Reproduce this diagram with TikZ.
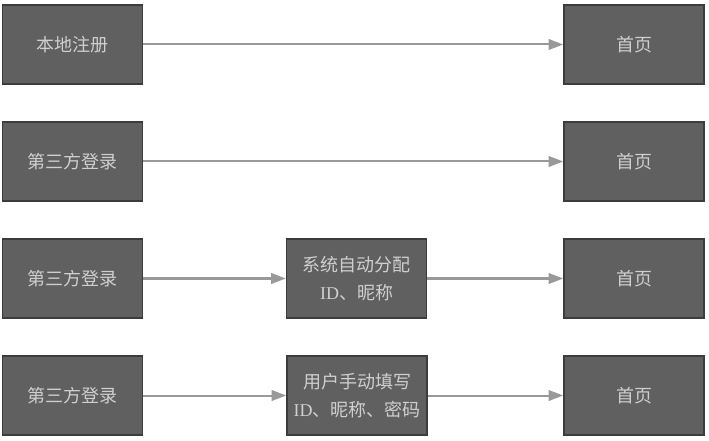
\documentclass[tikz,border=0pt]{standalone}
\usepackage{fontspec}
\setmainfont{Noto Sans CJK SC}
\newfontfamily\latinser{Liberation Serif}
\usetikzlibrary{arrows.meta}
\definecolor{boxfill}{HTML}{606060}
\definecolor{boxline}{HTML}{3C3C3C}
\definecolor{boxtext}{HTML}{CFCFCF}
\definecolor{arrowcol}{HTML}{999999}
\begin{document}
\begin{tikzpicture}[x=0.75pt,y=-0.75pt,
  box/.style={draw=boxline,line width=1.2pt,fill=boxfill,text=boxtext,
    minimum width=105pt,minimum height=59pt,inner sep=0pt,align=center,
    font=\fontsize{13.5pt}{21pt}\selectfont},
  conn/.style={draw=arrowcol,line width=1.5pt,-{Triangle[length=11pt,width=8pt]}}]
\useasboundingbox (0,0) rectangle (709,441);
% row 1
\node[box] (a1) at (72.5,44.5) {本地注册};
\node[box] (h1) at (634,44.5) {首页};
% row 2
\node[box] (a2) at (72.5,161.5) {第三方登录};
\node[box] (h2) at (634,161.5) {首页};
% row 3
\node[box] (a3) at (72.5,278.5) {第三方登录};
\node[box] (m3) at (356.5,278.5) {系统自动分配\\{\latinser ID}、昵称};
\node[box] (h3) at (634,278.5) {首页};
% row 4
\node[box] (a4) at (72.5,395.5) {第三方登录};
\node[box] (m4) at (357,395.5) {用户手动填写\\{\latinser ID}、昵称、密码};
\node[box] (h4) at (634,395.5) {首页};
\draw[conn] (a1) -- (h1);
\draw[conn] (a2) -- (h2);
\draw[conn] (a3) -- (m3);
\draw[conn] (m3) -- (h3);
\draw[conn] (a4) -- (m4);
\draw[conn] (m4) -- (h4);
\end{tikzpicture}
\end{document}
